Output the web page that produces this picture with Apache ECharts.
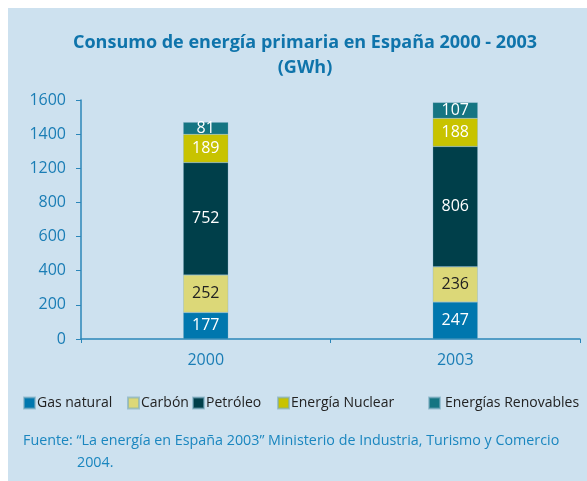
<!DOCTYPE html>
<html><head><meta charset="utf-8">
<script src="https://cdn.jsdelivr.net/npm/echarts@6/dist/echarts.min.js"></script>
<style>html,body{margin:0;padding:0;background:#fff;}#c{width:587px;height:481px;}</style>
</head><body><div id="c"></div>
<script>
const categories = ['2000', '2003'];
const seriesNames = ['Gas natural', 'Carbón', 'Petróleo', 'Energía Nuclear', 'Energías Renovables'];
const gasNatural = [177, 247];
const carbon = [252, 236];
const petroleo = [752, 806];
const nuclear = [189, 188];
const renovables = [81, 107];
const yTickLabels = ['0', '200', '400', '600', '800', '1200', '1400', '1600'];

const colors = ['#0077ae', '#dcd878', '#003f4a', '#c8c300', '#157582'];
const labelColors = ['#ffffff', '#222222', '#ffffff', '#ffffff', '#ffffff'];
const values = [gasNatural, carbon, petroleo, nuclear, renovables];
const FONT = 'Open Sans';
const step = 1600 / 7;

const series = seriesNames.map((n, i) => ({
  name: n, type: 'bar', stack: 'total', barWidth: 45,
  data: values[i],
  itemStyle: { color: colors[i], borderColor: 'rgba(120,170,190,0.6)', borderWidth: 0.5 },
  label: { show: true, position: 'inside', color: labelColors[i], fontFamily: FONT, fontSize: 16 }
}));

const legendX = [23, 127, 192, 277, 428];
const legendTextPad = [-3, -3, -3, -3, 0];
const legends = seriesNames.map((n, i) => ({
  data: [n], left: legendX[i], top: 396, padding: 0, icon: 'rect', itemWidth: 11, itemHeight: 11, itemGap: 0,
  textStyle: { color: '#222', fontFamily: FONT, fontSize: 14, padding: [0, 0, 0, legendTextPad[i]] },
  selectedMode: false
}));

const chart = echarts.init(document.getElementById('c'));
chart.setOption({
  backgroundColor: '#ffffff',
  animation: false,
  color: colors,
  graphic: [
    { type: 'rect', left: 8, top: 8, shape: { width: 579, height: 473 }, style: { fill: '#cde1ef' }, z: -10 },
    { type: 'text', left: 23, top: 434, style: { text: 'Fuente: “La energía en España 2003” Ministerio de Industria, Turismo y Comercio', fill: '#1a86bf', font: '14.3px ' + FONT } },
    { type: 'text', left: 77, top: 456, style: { text: '2004.', fill: '#1a86bf', font: '14.3px ' + FONT } }
  ],
  title: {
    text: 'Consumo de energía primaria en España 2000 - 2003\n(GWh)',
    left: 300, textAlign: 'center', top: 25,
    textStyle: { color: '#0f74ab', fontFamily: FONT, fontWeight: 'bold', fontSize: 18, lineHeight: 25 }
  },
  legend: legends,
  grid: { left: 81, right: 7, top: 100, bottom: 142 },
  xAxis: {
    type: 'category', data: categories,
    axisLine: { lineStyle: { color: '#2b86b9', width: 1.5 } },
    axisTick: { show: true, length: 4, lineStyle: { color: '#2b86b9' } },
    axisLabel: { color: '#1a7db5', fontFamily: FONT, fontSize: 16, margin: 13 }
  },
  yAxis: {
    type: 'value', min: 0, max: 1600, interval: step,
    axisLine: { show: true, lineStyle: { color: '#2b86b9', width: 1.5 } },
    axisTick: { show: true, length: 5, lineStyle: { color: '#2b86b9' } },
    splitLine: { show: false },
    axisLabel: { color: '#1a7db5', fontFamily: FONT, fontSize: 16, margin: 15,
      formatter: function (v) { return yTickLabels[Math.round(v / step)] || ''; } }
  },
  series: series
});
</script></body></html>
